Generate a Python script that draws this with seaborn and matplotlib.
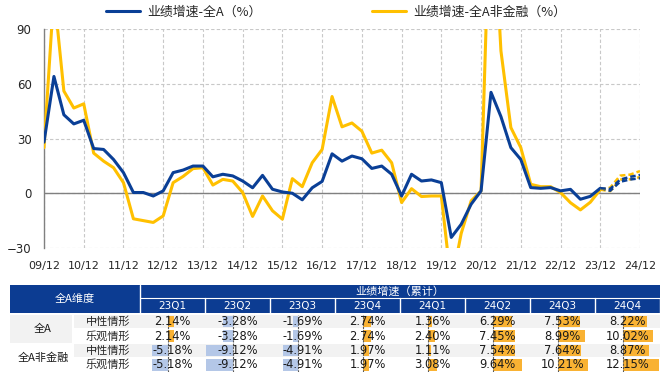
import matplotlib
matplotlib.use('Agg')
import matplotlib.pyplot as plt
from matplotlib.patches import Rectangle
from matplotlib.transforms import blended_transform_factory
import pandas as pd
import seaborn as sns

# quarterly cumulative earnings growth (%), 2009Q4 .. 2023Q4
quarters = ['09Q4'] + [f'{y:02d}Q{q}' for y in range(10, 24) for q in range(1, 5)]
growth_all = [28, 64, 43, 38, 40, 24.5, 24, 18.5, 11.3, 0.4, 0.4, -1.5, 1.3,
              11.3, 12.7, 14.9, 14.9, 9, 10.4, 9.5, 6.7, 3, 9.8, 2.2, 0.7,
              0, -3.6, 3, 6.5, 21.6, 17.6, 20.4, 18.9, 13.6, 14.9, 10.4, -1.5,
              10.4, 6.7, 7.3, 5.8, -24.2, -17, -6, 1.3, 55.3, 42, 25, 18.5,
              3.1, 2.7, 3.1, 1.3, 2.14, -3.28, -1.69, 2.74]
growth_nonfin = [25, 110, 56, 46.7, 49, 22, 17.6, 14, 5.8, -14, -15, -16, -12.4,
                 5.8, 9.2, 13.5, 14, 4.5, 7.6, 6.7, 0.4, -12.7, -1.5, -9.6, -14.2,
                 8, 3.6, 16.7, 24, 53, 36.4, 38.5, 34, 22, 23.6, 16.7, -5.1,
                 2.5, -1.8, -1.5, -1.5, -50, -22, -4.2, 1.3, 180, 78, 36, 25,
                 4.9, 3.6, 3.6, 0.4, -5.18, -9.12, -4.91, 1.97]

# scenario table 23Q1 .. 24Q4
table_cols = ['23Q1', '23Q2', '23Q3', '23Q4', '24Q1', '24Q2', '24Q3', '24Q4']
all_neutral = [2.14, -3.28, -1.69, 2.74, 1.36, 6.29, 7.53, 8.22]
all_optim = [2.14, -3.28, -1.69, 2.74, 2.40, 7.45, 8.99, 10.02]
nonfin_neutral = [-5.18, -9.12, -4.91, 1.97, 1.11, 7.54, 7.64, 8.87]
nonfin_optim = [-5.18, -9.12, -4.91, 1.97, 3.08, 9.64, 10.21, 12.15]

year_ticks = [f'{y:02d}/12' for y in range(9, 25)]
legend_labels = ['业绩增速-全A（%）', '业绩增速-全A非金融（%）']
row_groups = ['全A', '全A非金融']
row_cases = ['中性情形', '乐观情形', '中性情形', '乐观情形']

BLUE = '#0a3f96'
GOLD = '#ffc000'
HEAD = '#0c3c92'
CJK = ['Noto Sans CJK SC', 'DejaVu Sans']

sns.set_style('white')
plt.rcParams['font.family'] = ['DejaVu Sans']

W, H = 666, 374
fig = plt.figure(figsize=(W / 100, H / 100), dpi=100)


def frac(x0, y0, x1, y1):
    return [x0 / W, 1 - y1 / H, (x1 - x0) / W, (y1 - y0) / H]


# ---------------- line chart ----------------
ax = fig.add_axes(frac(44, 29, 640, 248))
n = len(quarters)
hist = pd.DataFrame({'q': range(n), 'all': growth_all, 'nonfin': growth_nonfin})
sns.lineplot(data=hist, x='q', y='all', ax=ax, color=BLUE, lw=2.2, zorder=4,
             solid_joinstyle='round', solid_capstyle='round')
sns.lineplot(data=hist, x='q', y='nonfin', ax=ax, color=GOLD, lw=2.2, zorder=3,
             solid_joinstyle='round', solid_capstyle='round')

fq = list(range(n - 1, n + 4))
for vals, col in [(nonfin_neutral, GOLD), (all_neutral, BLUE),
                  (nonfin_optim, GOLD), (all_optim, BLUE)]:
    f = pd.DataFrame({'q': fq, 'v': vals[3:]})
    sns.lineplot(data=f, x='q', y='v', ax=ax, color=col, lw=1.8,
                 linestyle=(0, (2.2, 1.2)), zorder=5)

ax.set_xlim(0, n + 3)
ax.set_ylim(-30, 90)
ax.set_xticks(range(0, n + 4, 4))
ax.set_xticklabels(year_ticks)
ax.set_yticks([-30, 0, 30, 60, 90])
ax.set_xlabel('')
ax.set_ylabel('')
ax.grid(True, color='#c8c8c8', ls=(0, (3, 2)), lw=0.8)
ax.axhline(0, color='#808080', lw=1, zorder=2)
for s in ['top', 'right', 'bottom']:
    ax.spines[s].set_visible(False)
ax.spines['left'].set_color('#808080')
ax.spines['left'].set_linewidth(1)
ax.tick_params(axis='x', length=0, labelsize=8, pad=9, colors='#262626')
ax.tick_params(axis='y', length=0, labelsize=8.5, pad=9, colors='#262626')

handles = [plt.Line2D([], [], color=BLUE, lw=2.2), plt.Line2D([], [], color=GOLD, lw=2.2)]
fig.legend(handles, legend_labels, loc='center', bbox_to_anchor=(336 / W, 1 - 12 / H),
           ncol=2, frameon=False, prop={'family': CJK, 'size': 9.3},
           handlelength=2.6, handletextpad=0.56, columnspacing=8.6)

# ---------------- table ----------------
tab = fig.add_axes([0, 0, 1, 1], zorder=-1)
tab.set_xlim(0, W)
tab.set_ylim(H, 0)
tab.axis('off')
tab.patch.set_alpha(0)

row_top = 314.5
row_h = 14.4
tab.add_patch(Rectangle((10, 285), 650, 28.3, color=HEAD, lw=0))
tab.plot([140, 660], [298.3, 298.3], color='white', lw=0.8)
for i in range(len(table_cols) + 1):
    x = 140 + 65 * i
    tab.plot([x, x], [285 if i == 0 else 298.3, 313.3], color='white', lw=1)
for r in (0, 2):
    tab.add_patch(Rectangle((74, row_top + r * row_h + 0.5), 586, row_h - 1.2,
                            color='#f2f2f2', lw=0))
tab.add_patch(Rectangle((10, row_top + 0.5), 62, 2 * row_h - 1.2, color='#f2f2f2', lw=0))

tab.text(75, 299, '全A维度', color='white', fontsize=8, family=CJK, ha='center', va='center')
tab.text(400, 291.7, '业绩增速（累计）', color='white', fontsize=8, family=CJK,
         ha='center', va='center')
for i, c in enumerate(table_cols):
    tab.text(172.5 + 65 * i, 306, c, color='white', fontsize=7.5, ha='center', va='center')
for g, label in enumerate(row_groups):
    tab.text(43, row_top + (2 * g + 1) * row_h, label, fontsize=8, family=CJK,
             ha='center', va='center', color='#1a1a1a')
for r, label in enumerate(row_cases):
    tab.text(108, row_top + (r + 0.5) * row_h, label, fontsize=8, family=CJK,
             ha='center', va='center', color='#262626')

rows = [all_neutral, all_optim, nonfin_neutral, nonfin_optim]
for i, c in enumerate(table_cols):
    cax = fig.add_axes(frac(140 + 65 * i, row_top, 205 + 65 * i, row_top + 4 * row_h))
    cax.patch.set_alpha(0)
    cax.axis('off')
    vals = [rw[i] for rw in rows]
    cols = ['#f9b233' if v > 0 else '#b4c7e7' for v in vals]
    cax.barh(range(4), vals, height=0.8, color=cols, lw=0)
    cax.axvline(0, color='#595959', ls=(0, (2, 1)), lw=0.8)
    cax.set_xlim(-9.3, 12.4)
    cax.set_ylim(3.5, -0.5)
    tr = blended_transform_factory(cax.transAxes, cax.transData)
    for r, v in enumerate(vals):
        cax.text(0.5, r, f'{v:.2f}%', transform=tr, ha='center', va='center',
                 fontsize=8.3, color='#1a1a1a')

fig.savefig('out.png', dpi=100)
